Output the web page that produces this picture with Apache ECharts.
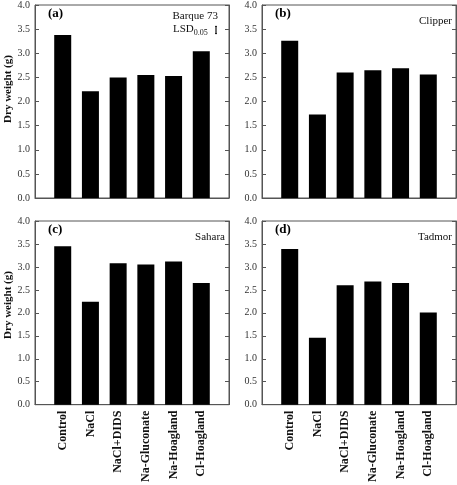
<!DOCTYPE html>
<html><head><meta charset="utf-8">
<script src="https://cdn.jsdelivr.net/npm/echarts@6/dist/echarts.min.js"></script>
<style>html,body{margin:0;padding:0;background:#fff}#c{width:457px;height:485px}</style>
</head><body><div id="c"></div>
<script>
const categories = ['Control','NaCl','NaCl+DIDS','Na-Gluconate','Na-Hoagland','Cl-Hoagland'];
const yTicks = [0,0.5,1.0,1.5,2.0,2.5,3.0,3.5,4.0];
const barque73 = [3.38,2.21,2.50,2.55,2.53,3.04];
const clipper  = [3.26,1.73,2.60,2.65,2.69,2.56];
const sahara   = [3.45,2.24,3.08,3.05,3.12,2.65];
const tadmor   = [3.39,1.46,2.60,2.68,2.65,2.01];
const panelLabels = ['(a)','(b)','(c)','(d)'];
const cultivars = ['Barque 73','Clipper','Sahara','Tadmor'];
const yName = 'Dry weight (g)';
const lsd = 0.15;

const serif = 'Liberation Serif';
const cats = [''].concat(categories, ['']);
const allData = [barque73, clipper, sahara, tadmor];
const grids = [
  {left:35, top:5, width:194, height:193},
  {left:262, top:5, width:194, height:193},
  {left:35, top:221, width:194, height:193},
  {left:262, top:221, width:194, height:193}
];
const option = {
  animation:false,
  grid: grids.map(g => Object.assign({show:true, borderColor:'#555', borderWidth:1, backgroundColor:'transparent'}, g)),
  xAxis: grids.map((g,i) => ({
    type:'category', gridIndex:i, data:cats, boundaryGap:false,
    axisLine:{show:true, lineStyle:{color:'#555', width:1}},
    axisTick:{show:false},
    axisLabel:{show:i>=2, rotate:90, interval:0, fontFamily:serif, fontWeight:'bold', fontSize:12, color:'#111', margin:6}
  })),
  yAxis: [],
  series: [],
  graphic: []
};
grids.forEach((g,i) => {
  option.yAxis.push({
    type:'value', gridIndex:i, min:0, max:4, interval:0.5, position:'left',
    axisLine:{show:true, lineStyle:{color:'#555'}},
    axisTick:{show:true, inside:true, length:4, lineStyle:{color:'#555'}},
    axisLabel:{fontFamily:serif, fontSize:10, color:'#333', margin:5, formatter:v => v.toFixed(1)},
    splitLine:{show:false}
  });
  option.yAxis.push({
    type:'value', gridIndex:i, min:0, max:4, interval:0.5, position:'right',
    axisLine:{show:true, lineStyle:{color:'#555'}},
    axisTick:{show:true, inside:true, length:4, lineStyle:{color:'#555'}},
    axisLabel:{show:false}, splitLine:{show:false}
  });
  option.series.push({
    type:'bar', xAxisIndex:i, yAxisIndex:2*i, barWidth:17,
    itemStyle:{color:'#000'},
    data:[null].concat(allData[i], [null])
  });
  option.graphic.push({
    type:'text', left:g.left+13, top:g.top+2,
    style:{text:panelLabels[i], font:'bold 13px "Liberation Serif"', fill:'#000'}
  });
  const rightEdge = (i===0) ? g.left+g.width-11 : g.left+g.width-4;
  option.graphic.push({
    type:'text', x:rightEdge, y:g.top+(i===0?11:16),
    style:{text:cultivars[i], font:'11px "Liberation Serif"', fill:'#111', align:'right', verticalAlign:'middle'}
  });
  if (i%2===0) {
    option.graphic.push({
      type:'text', x:8, y:g.top+84, rotation:Math.PI/2,
      style:{text:yName, font:'bold 11px "Liberation Serif"', fill:'#111', align:'center', verticalAlign:'middle'}
    });
  }
});
// LSD annotation in panel (a)
option.graphic.push({
  type:'text', left:173, top:24,
  style:{text:'{a|LSD}{s|0.05}', fill:'#111', rich:{a:{font:'11px "Liberation Serif"', fill:'#111'}, s:{font:'8px "Liberation Serif"', fill:'#111', padding:[6,0,0,0]}}}
});
const lsdPx = lsd*193/4;
const lx = 216, ly = 30;
option.graphic.push({type:'group', children:[
  {type:'line', shape:{x1:lx, y1:ly-lsdPx/2, x2:lx, y2:ly+lsdPx/2}, style:{stroke:'#111', lineWidth:1.2}},
  {type:'line', shape:{x1:lx-1, y1:ly-lsdPx/2, x2:lx+1, y2:ly-lsdPx/2}, style:{stroke:'#111', lineWidth:1}},
  {type:'line', shape:{x1:lx-1, y1:ly+lsdPx/2, x2:lx+1, y2:ly+lsdPx/2}, style:{stroke:'#111', lineWidth:1}}
]});
const chart = echarts.init(document.getElementById('c'), null, {renderer:'canvas'});
chart.setOption(option);
</script></body></html>
